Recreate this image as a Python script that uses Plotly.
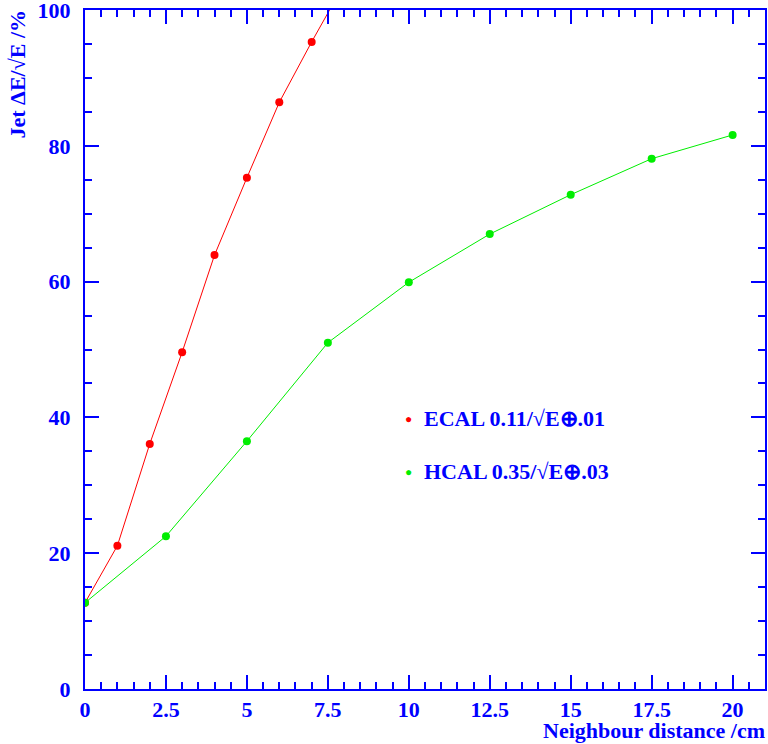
import plotly.graph_objects as go

ecal_x = [0, 1, 2, 3, 4, 5, 6, 7, 8]
ecal_y = [12.7, 21.1, 36.1, 49.6, 63.9, 75.3, 86.4, 95.3, 103.8]
hcal_x = [0, 2.5, 5, 7.5, 10, 12.5, 15, 17.5, 20]
hcal_y = [12.7, 22.5, 36.5, 51.0, 59.9, 67.0, 72.8, 78.1, 81.6]
x_tickvals = [0, 2.5, 5, 7.5, 10, 12.5, 15, 17.5, 20]
x_ticktext = ["0", "2.5", "5", "7.5", "10", "12.5", "15", "17.5", "20"]
y_tickvals = [0, 20, 40, 60, 80, 100]
legend_labels = ["ECAL 0.11/√E⊕.01", "HCAL 0.35/√E⊕.03"]

BLUE = "#0000ff"
FONT = "Liberation Serif"
FS = 22

fig = go.Figure()
fig.add_trace(go.Scatter(x=ecal_x, y=ecal_y, mode="lines+markers",
                         line=dict(color="#ff0000", width=1),
                         marker=dict(color="#ff0000", size=8), cliponaxis=True))
fig.add_trace(go.Scatter(x=hcal_x, y=hcal_y, mode="lines+markers",
                         line=dict(color="#00ee00", width=1),
                         marker=dict(color="#00ee00", size=8), cliponaxis=True))

axis_common = dict(showgrid=False, zeroline=False, showline=True, linecolor=BLUE,
                   linewidth=2, mirror="ticks", ticks="inside", tickcolor=BLUE,
                   tickwidth=1.5, ticklabeloverflow="allow", automargin=False,
                   tickfont=dict(family=FONT, size=FS, color=BLUE, weight="bold"))

fig.update_xaxes(range=[0, 21], tickvals=x_tickvals, ticktext=x_ticktext, ticklen=14,
                 minor=dict(dtick=0.5, ticklen=7, ticks="inside", tickcolor=BLUE, tickwidth=1.5),
                 **axis_common)
fig.update_yaxes(range=[0, 100], tickvals=y_tickvals, ticklen=14, ticklabelstandoff=8,
                 minor=dict(dtick=5, ticklen=7, ticks="inside", tickcolor=BLUE, tickwidth=1.5),
                 **axis_common)

annots = []
leg_y = [39.9, 32.0]
leg_col = ["#ff0000", "#00ee00"]
for lab, yy, c in zip(legend_labels, leg_y, leg_col):
    annots.append(dict(x=10.0, y=yy, xref="x", yref="y", text="●", showarrow=False,
                       font=dict(size=12, color=c), xanchor="center", yanchor="middle"))
    annots.append(dict(x=10.4, y=yy, xref="x", yref="y", text=lab, showarrow=False,
                       font=dict(family=FONT, size=FS, color=BLUE, weight="bold"),
                       xanchor="left", yanchor="middle"))
annots.append(dict(x=1, y=0, xref="paper", yref="paper", text="Neighbour distance /cm",
                   showarrow=False, xanchor="right", yanchor="top", yshift=-27, xshift=2,
                   font=dict(family=FONT, size=FS, color=BLUE, weight="bold")))
annots.append(dict(x=0, y=1, xref="paper", yref="paper", text="Jet ΔE/√E /%",
                   showarrow=False, xanchor="center", yanchor="top", textangle=-90,
                   xshift=-68, yshift=2,
                   font=dict(family=FONT, size=FS, color=BLUE, weight="bold")))

fig.update_layout(width=768, height=744, margin=dict(l=85, r=3, t=10, b=55),
                  paper_bgcolor="white", plot_bgcolor="white", showlegend=False,
                  annotations=annots)
fig.write_html("out.html")
